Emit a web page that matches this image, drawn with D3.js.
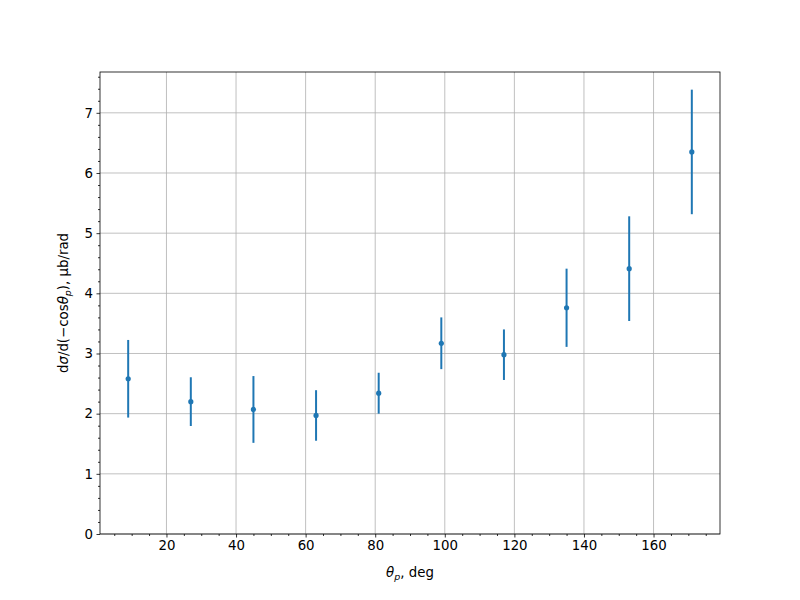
<!DOCTYPE html>
<html><head><meta charset="utf-8">
<script src="https://cdn.jsdelivr.net/npm/d3@7"></script>
<style>body{margin:0;background:#fff}svg{font-family:"DejaVu Sans",sans-serif}</style>
</head><body>
<svg id="c" width="800" height="600"></svg>
<script>
const angles = [9, 27, 45, 63, 81, 99, 117, 135, 153, 171];
const values = [2.58, 2.20, 2.07, 1.97, 2.34, 3.17, 2.98, 3.76, 4.41, 6.35];
const errors = [0.645, 0.405, 0.555, 0.42, 0.34, 0.43, 0.42, 0.65, 0.87, 1.035];
const xTicks = [20, 40, 60, 80, 100, 120, 140, 160];
const yTicks = [0, 1, 2, 3, 4, 5, 6, 7];

const svg = d3.select("#c");
const L = 100, R = 720, T = 72, B = 534;
const lo = d3.min(values.map((v, i) => v - errors[i]));
const hi = d3.max(values.map((v, i) => v + errors[i]));
const xpad = (d3.max(angles) - d3.min(angles)) * 0.05;
const x = d3.scaleLinear().domain([d3.min(angles) - xpad, d3.max(angles) + xpad]).range([L, R]);
const y = d3.scaleLinear().domain([0, hi + (hi - lo) * 0.05]).range([B, T]);

const g = svg.append("g");
// grid
g.selectAll(".gx").data(xTicks).enter().append("line")
  .attr("x1", d => x(d)).attr("x2", d => x(d)).attr("y1", T).attr("y2", B)
  .attr("stroke", "#b0b0b0").attr("stroke-width", 0.8);
g.selectAll(".gy").data(yTicks).enter().append("line")
  .attr("y1", d => y(d)).attr("y2", d => y(d)).attr("x1", L).attr("x2", R)
  .attr("stroke", "#b0b0b0").attr("stroke-width", 0.8);

// axes
const xMinor = d3.range(5, 180, 5).filter(v => v % 20 !== 0 && v >= x.domain()[0] && v <= x.domain()[1]);
const yMinor = d3.range(0, 7.7, 0.2).filter(v => Math.abs(v - Math.round(v)) > 1e-6 && v <= y.domain()[1]);

const xAxis = svg.append("g").attr("transform", `translate(0,${B})`)
  .call(d3.axisBottom(x).tickValues(xTicks).tickSize(3.5).tickPadding(3.5).tickFormat(d3.format("d")));
const xAxisMinor = svg.append("g").attr("transform", `translate(0,${B})`)
  .call(d3.axisBottom(x).tickValues(xMinor).tickSize(2).tickFormat(""));
const yAxis = svg.append("g").attr("transform", `translate(${L},0)`)
  .call(d3.axisLeft(y).tickValues(yTicks).tickSize(3.5).tickPadding(3.5).tickFormat(d3.format("d")));
const yAxisMinor = svg.append("g").attr("transform", `translate(${L},0)`)
  .call(d3.axisLeft(y).tickValues(yMinor).tickSize(2).tickFormat(""));
[xAxis, xAxisMinor, yAxis, yAxisMinor].forEach(a => {
  a.select(".domain").remove();
  a.selectAll("line").attr("stroke", "#000").attr("stroke-width", 0.8);
  a.selectAll("text").attr("font-size", "13.33px").attr("fill", "#000").attr("font-family", "DejaVu Sans");
});

// frame
svg.append("rect").attr("x", L).attr("y", T).attr("width", R - L).attr("height", B - T)
  .attr("fill", "none").attr("stroke", "#000").attr("stroke-width", 0.8);

// error bars
const col = "#1f77b4";
svg.selectAll(".eb").data(angles).enter().append("line")
  .attr("x1", d => x(d)).attr("x2", d => x(d))
  .attr("y1", (d, i) => y(values[i] - errors[i])).attr("y2", (d, i) => y(values[i] + errors[i]))
  .attr("stroke", col).attr("stroke-width", 2);
svg.selectAll(".pt").data(angles).enter().append("circle")
  .attr("cx", d => x(d)).attr("cy", (d, i) => y(values[i])).attr("r", 2.6).attr("fill", col);

// labels
const xl = svg.append("text").attr("x", (L + R) / 2).attr("y", 577).attr("text-anchor", "middle")
  .attr("font-size", "13.33px").attr("fill", "#000");
xl.append("tspan").attr("font-style", "italic").text("θ");
xl.append("tspan").attr("font-style", "italic").attr("font-size", "9.5px").attr("dy", 2.5).text("p");
xl.append("tspan").attr("dy", -2.5).text(", deg");

const yl = svg.append("text").attr("transform", `translate(68,${(T + B) / 2}) rotate(-90)`)
  .attr("text-anchor", "middle").attr("font-size", "13.33px").attr("fill", "#000");
yl.append("tspan").text("d");
yl.append("tspan").attr("font-style", "italic").text("σ");
yl.append("tspan").text("/d(−cos");
yl.append("tspan").attr("font-style", "italic").text("θ");
yl.append("tspan").attr("font-style", "italic").attr("font-size", "9.5px").attr("dy", 2.5).text("p");
yl.append("tspan").attr("dy", -2.5).text("), μb/rad");
</script>
</body></html>
